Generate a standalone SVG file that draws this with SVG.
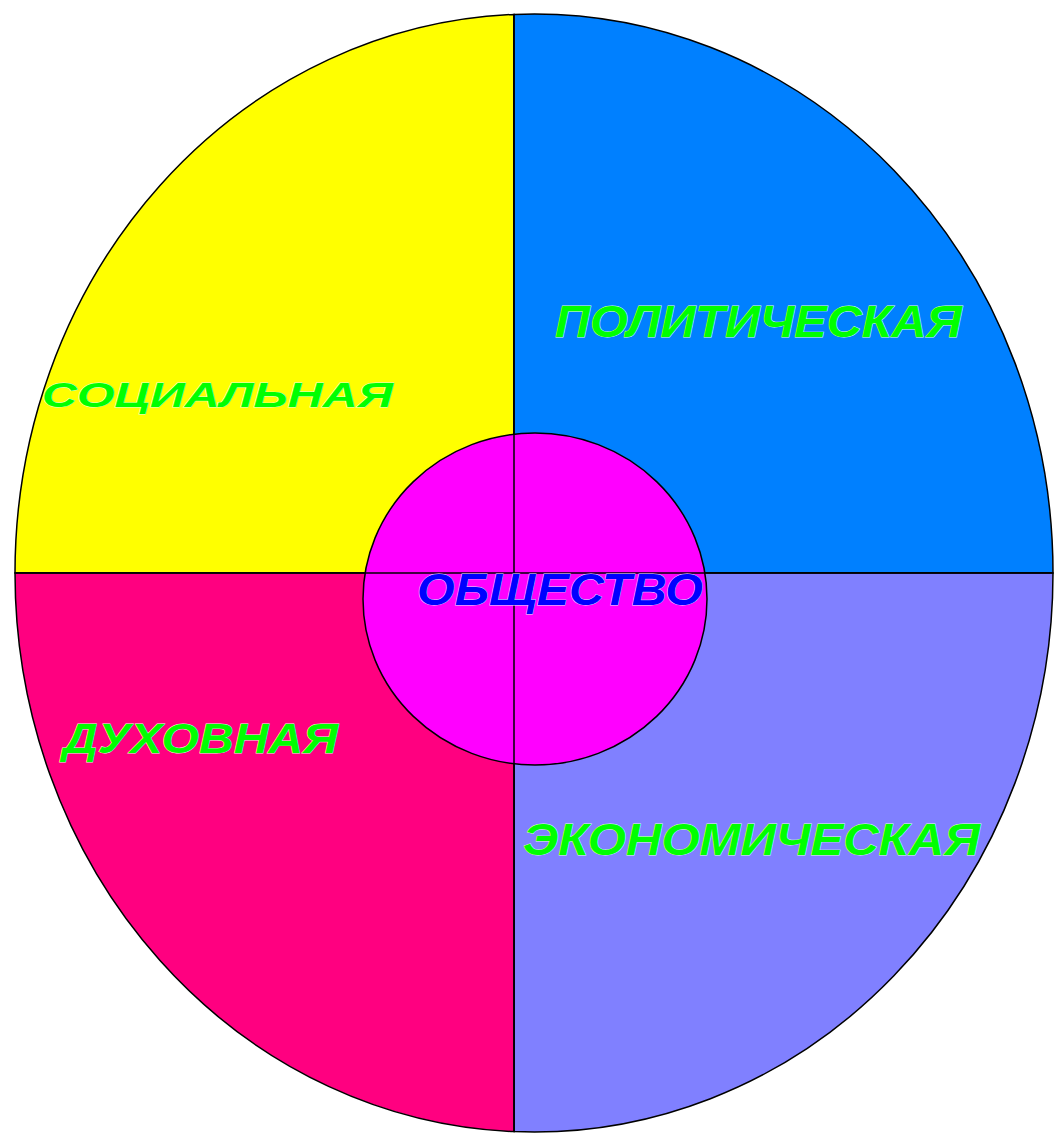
<svg xmlns="http://www.w3.org/2000/svg" width="1054" height="1134" viewBox="0 0 1054 1134">
<style>
.q{stroke:#000;stroke-width:1.5}
.ln{stroke:#000;stroke-width:1.5;fill:none}
.lbl{font-family:"Liberation Sans",Arial,sans-serif;font-weight:bold;font-style:italic;fill:#00ff00;stroke:#d8ffd8;stroke-width:0.8;paint-order:stroke}
.ctr{font-family:"Liberation Sans",Arial,sans-serif;font-weight:bold;font-style:italic;fill:#0000ff;stroke:#e0e0ff;stroke-width:0.8;paint-order:stroke}
</style>
<rect width="1054" height="1134" fill="#fff"/>
<g id="social">
<path class="q" fill="#ffff00" d="M514,573 L15,573 A519,559 0 0 1 514,14.4 Z"/>
</g>
<g id="political">
<path class="q" fill="#0080ff" d="M514,573 L514,14.4 A519,559 0 0 1 1053,573 Z"/>
</g>
<g id="economic">
<path class="q" fill="#8080ff" d="M514,573 L1053,573 A519,559 0 0 1 514,1131.6 Z"/>
</g>
<g id="spiritual">
<path class="q" fill="#ff0080" d="M514,573 L514,1131.6 A519,559 0 0 1 15,573 Z"/>
</g>
<g id="society">
<ellipse class="q" fill="#ff00ff" cx="535" cy="599" rx="172" ry="166"/>
</g>
<g id="connectors">
<line class="ln" x1="514" y1="14.4" x2="514" y2="1131.6"/>
<line class="ln" x1="15" y1="573" x2="1053" y2="573"/>
</g>
<g id="labels">
<text class="lbl" x="42" y="407" font-size="35" textLength="351" lengthAdjust="spacingAndGlyphs">СОЦИАЛЬНАЯ</text>
<text class="lbl" x="555" y="337" font-size="44" textLength="407" lengthAdjust="spacingAndGlyphs">ПОЛИТИЧЕСКАЯ</text>
<text class="lbl" x="63" y="753" font-size="43" textLength="275" lengthAdjust="spacingAndGlyphs">ДУХОВНАЯ</text>
<text class="lbl" x="523" y="855" font-size="44" textLength="457" lengthAdjust="spacingAndGlyphs">ЭКОНОМИЧЕСКАЯ</text>
<text class="ctr" x="417" y="605" font-size="45" textLength="286" lengthAdjust="spacingAndGlyphs">ОБЩЕСТВО</text>
</g>
</svg>
